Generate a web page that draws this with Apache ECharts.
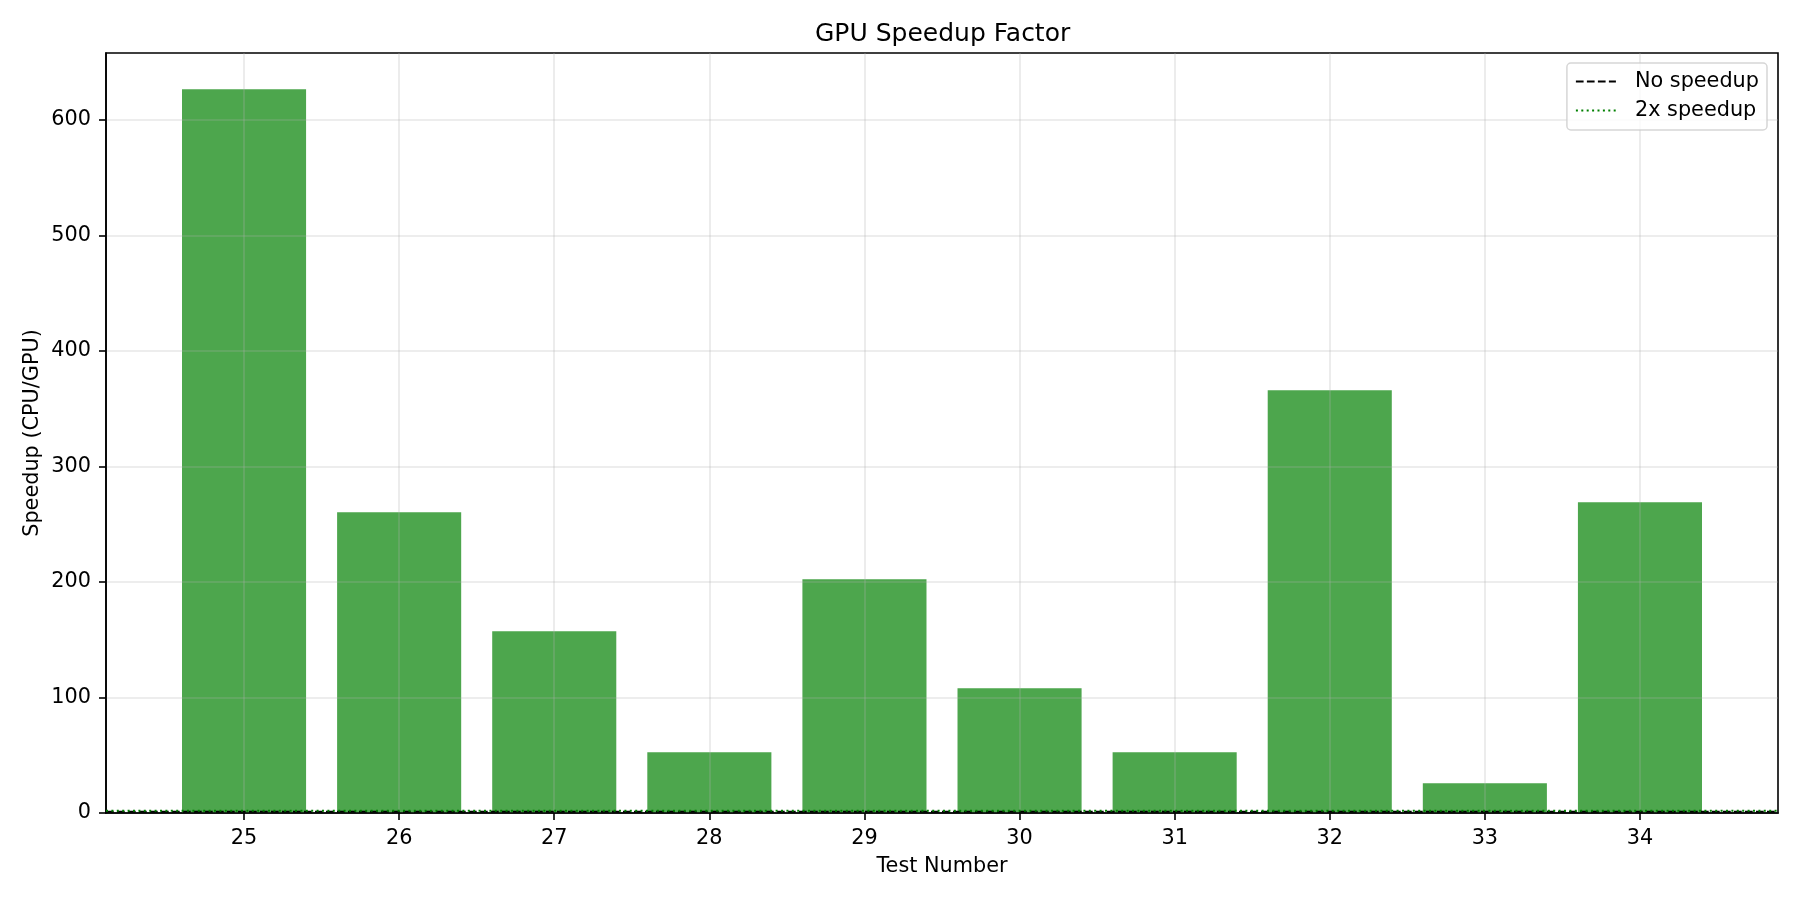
<!DOCTYPE html>
<html>
<head>
<meta charset="utf-8">
<script src="https://cdn.jsdelivr.net/npm/echarts@6/dist/echarts.min.js"></script>
<style>
html,body{margin:0;padding:0;background:#fff;}
#chart{width:1800px;height:900px;}
</style>
</head>
<body>
<div id="chart"></div>
<script>
// ---- data ----
const testNumbers = [25, 26, 27, 28, 29, 30, 31, 32, 33, 34];
const speedups = [626.6, 260.3, 157.3, 52.6, 202.3, 108.0, 52.6, 366.0, 25.7, 269.0];
const yTickValues = [0, 100, 200, 300, 400, 500, 600];
const noSpeedupLevel = 1;
const twoXSpeedupLevel = 2;
const xMin = 24.11;
const xMax = 34.89;
const yMax = 657.9;

const FONT = 'DejaVu Sans';
const FS = 20.8;
const chart = echarts.init(document.getElementById('chart'), null, {renderer: 'canvas'});

const barData = testNumbers.map((t, i) => [t, speedups[i]]);
const hline = v => [[xMin, v], [xMax, v]];

chart.setOption({
  animation: false,
  backgroundColor: '#ffffff',
  title: {
    text: 'GPU Speedup Factor',
    left: 815,
    top: 22,
    padding: 0,
    textStyle: {fontFamily: FONT, fontSize: 25, fontWeight: 'normal', color: '#000'}
  },
  legend: {
    orient: 'vertical',
    right: 33,
    top: 63,
    padding: [8, 8, 9, 8],
    itemWidth: 40,
    itemHeight: 14,
    itemGap: 8,
    borderColor: 'rgba(204,204,204,0.8)',
    borderWidth: 1.5,
    borderRadius: 4,
    backgroundColor: 'rgba(255,255,255,0.8)',
    itemStyle: {opacity: 0},
    textStyle: {fontFamily: FONT, fontSize: FS, color: '#000', padding: [0, 0, 0, 14]},
    data: ['No speedup', '2x speedup']
  },
  grid: {
    left: 106, right: 22, top: 53, bottom: 87,
    show: true, borderColor: '#000', borderWidth: 1.6, backgroundColor: 'transparent'
  },
  xAxis: {
    type: 'value',
    min: xMin,
    max: xMax,
    splitNumber: 10,
    z: 3,
    name: 'Test Number',
    nameLocation: 'middle',
    nameGap: 43,
    nameMoveOverlap: false,
    nameTextStyle: {fontFamily: FONT, fontSize: FS, color: '#000'},
    axisLine: {show: true, onZero: false, lineStyle: {color: '#000', width: 1.6}},
    axisTick: {show: true, length: 7, lineStyle: {color: '#000', width: 1.6}, customValues: testNumbers},
    axisLabel: {
      fontFamily: FONT, fontSize: FS, color: '#000', margin: 15,
      customValues: testNumbers,
      formatter: v => String(Math.round(v))
    },
    splitLine: {show: true, lineStyle: {color: 'rgba(176,176,176,0.3)', width: 1.6}}
  },
  yAxis: {
    type: 'value',
    min: 0,
    max: yMax,
    z: 3,
    name: 'Speedup (CPU/GPU)',
    nameLocation: 'middle',
    nameGap: 63,
    nameMoveOverlap: false,
    nameTextStyle: {fontFamily: FONT, fontSize: FS, color: '#000'},
    axisLine: {show: true, lineStyle: {color: '#000', width: 1.6}},
    axisTick: {show: true, length: 7, lineStyle: {color: '#000', width: 1.6}, customValues: yTickValues},
    axisLabel: {fontFamily: FONT, fontSize: FS, color: '#000', margin: 15, customValues: yTickValues},
    splitLine: {show: true, lineStyle: {color: 'rgba(176,176,176,0.3)', width: 1.6}}
  },
  series: [
    {
      name: 'Speedup',
      type: 'bar',
      data: barData,
      barWidth: '80%',
      itemStyle: {color: '#4da64d'},
      z: 2
    },
    {
      name: 'No speedup',
      type: 'line',
      data: hline(noSpeedupLevel),
      symbol: 'none',
      showSymbol: false,
      lineStyle: {color: '#000', width: 2, type: [7.7, 3.3]},
      itemStyle: {color: '#000'},
      z: 4
    },
    {
      name: '2x speedup',
      type: 'line',
      data: hline(twoXSpeedupLevel),
      symbol: 'none',
      showSymbol: false,
      lineStyle: {color: '#008000', width: 2, type: [2, 3.4]},
      itemStyle: {color: '#008000'},
      z: 4
    }
  ]
});
</script>
</body>
</html>
